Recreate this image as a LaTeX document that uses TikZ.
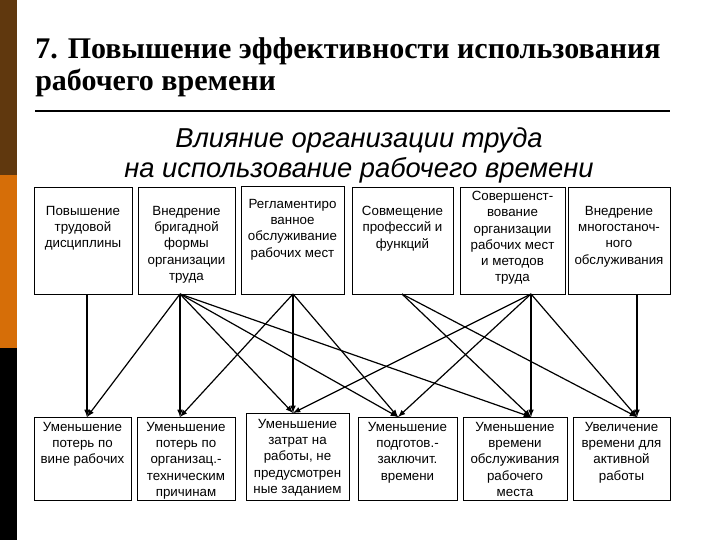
\documentclass[tikz,border=0pt]{standalone}
\usepackage{fontspec}
\setmainfont{Liberation Serif}
\setsansfont{Liberation Sans}
\definecolor{barbrown}{RGB}{96,56,14}
\definecolor{barorange}{RGB}{214,110,8}
\begin{document}
\begin{tikzpicture}[x=0.75pt,y=-0.75pt,
  box/.style={draw,line width=0.6pt,inner sep=0,anchor=north west},
  lbl/.style={font=\sffamily\fontsize{10}{12.2}\selectfont,align=center,anchor=north,inner sep=0},
  arr/.style={-latex,line width=0.9pt}]
\useasboundingbox (0,0) rectangle (720,540);
\fill[white] (0,0) rectangle (720,540);
\fill[barbrown] (0,0) rectangle (17,175);
\fill[barorange] (0,175) rectangle (17,348);
\fill[black] (0,348) rectangle (17,540);
\node[anchor=north west,align=left,font=\bfseries\fontsize{22.5}{24}\selectfont,inner sep=0] (title) at (35,37) {7. Повышение эффективности использования\\рабочего времени};
\coordinate (la) at (35,111); \coordinate (lb) at (670,111);
\draw[line width=1.6pt] (la) -- (lb);
\node[align=center,font=\sffamily\itshape\fontsize{20.5}{22.5}\selectfont,inner sep=0] (sub) at (359,155) {Влияние организации труда\\на использование рабочего времени};
% top boxes
\node[box,minimum width=98*0.75pt,minimum height=107*0.75pt] (t1) at (34,187) {};
\node[box,minimum width=97*0.75pt,minimum height=107*0.75pt] (t2) at (138,187) {};
\node[box,minimum width=103*0.75pt,minimum height=108*0.75pt] (t3) at (241,186) {};
\node[box,minimum width=101*0.75pt,minimum height=107*0.75pt] (t4) at (352,187) {};
\node[box,minimum width=105*0.75pt,minimum height=107*0.75pt] (t5) at (460,187) {};
\node[box,minimum width=102*0.75pt,minimum height=107*0.75pt] (t6) at (568,187) {};
\node[lbl] (tl1) at (83,206) {Повышение\\трудовой\\дисциплины};
\node[lbl] (tl2) at (186.5,206) {Внедрение\\бригадной\\формы\\организации\\труда};
\node[lbl] (tl3) at (292.5,199) {Регламентиро\\ванное\\обслуживание\\рабочих мест};
\node[lbl] (tl4) at (402.5,206) {Совмещение\\профессий и\\функций};
\node[lbl] (tl5) at (512.5,191) {Совершенст-\\вование\\организации\\рабочих мест\\и методов\\труда};
\node[lbl] (tl6) at (619,206) {Внедрение\\многостаноч-\\ного\\обслуживания};
% bottom boxes
\node[box,minimum width=97*0.75pt,minimum height=83*0.75pt] (b1) at (34,417) {};
\node[box,minimum width=98*0.75pt,minimum height=83*0.75pt] (b2) at (137,417) {};
\node[box,minimum width=103*0.75pt,minimum height=87*0.75pt] (b3) at (246,413) {};
\node[box,minimum width=99*0.75pt,minimum height=83*0.75pt] (b4) at (358,417) {};
\node[box,minimum width=104*0.75pt,minimum height=83*0.75pt] (b5) at (463,417) {};
\node[box,minimum width=97*0.75pt,minimum height=83*0.75pt] (b6) at (573,417) {};
\node[lbl] (bl1) at (82.5,422) {Уменьшение\\потерь по\\вине рабочих};
\node[lbl] (bl2) at (186,422) {Уменьшение\\потерь по\\организац.-\\техническим\\причинам};
\node[lbl] (bl3) at (297.5,419) {Уменьшение\\затрат на\\работы, не\\предусмотрен\\ные заданием};
\node[lbl] (bl4) at (407.5,422) {Уменьшение\\подготов.-\\заключит.\\времени};
\node[lbl] (bl5) at (515,422) {Уменьшение\\времени\\обслуживания\\рабочего\\места};
\node[lbl] (bl6) at (621.5,422) {Увеличение\\времени для\\активной\\работы};
% anchor points
\coordinate (s1) at (87,294); \coordinate (s2) at (180,294); \coordinate (s3) at (293,294);
\coordinate (s4) at (402,294); \coordinate (s5) at (531,294); \coordinate (s6) at (637,294);
\coordinate (e1) at (87,417); \coordinate (e2) at (180,417); \coordinate (e3) at (293,413);
\coordinate (e4) at (398,417); \coordinate (e5) at (531,417); \coordinate (e6) at (637,417);
\draw[arr] (s1) -- (e1);
\foreach \e in {e1,e2,e3,e4,e5} \draw[arr] (s2) -- (\e);
\foreach \e in {e2,e3,e4} \draw[arr] (s3) -- (\e);
\foreach \e in {e5,e6} \draw[arr] (s4) -- (\e);
\foreach \e in {e3,e4,e5,e6} \draw[arr] (s5) -- (\e);
\draw[arr] (s6) -- (e6);
\end{tikzpicture}
\end{document}
